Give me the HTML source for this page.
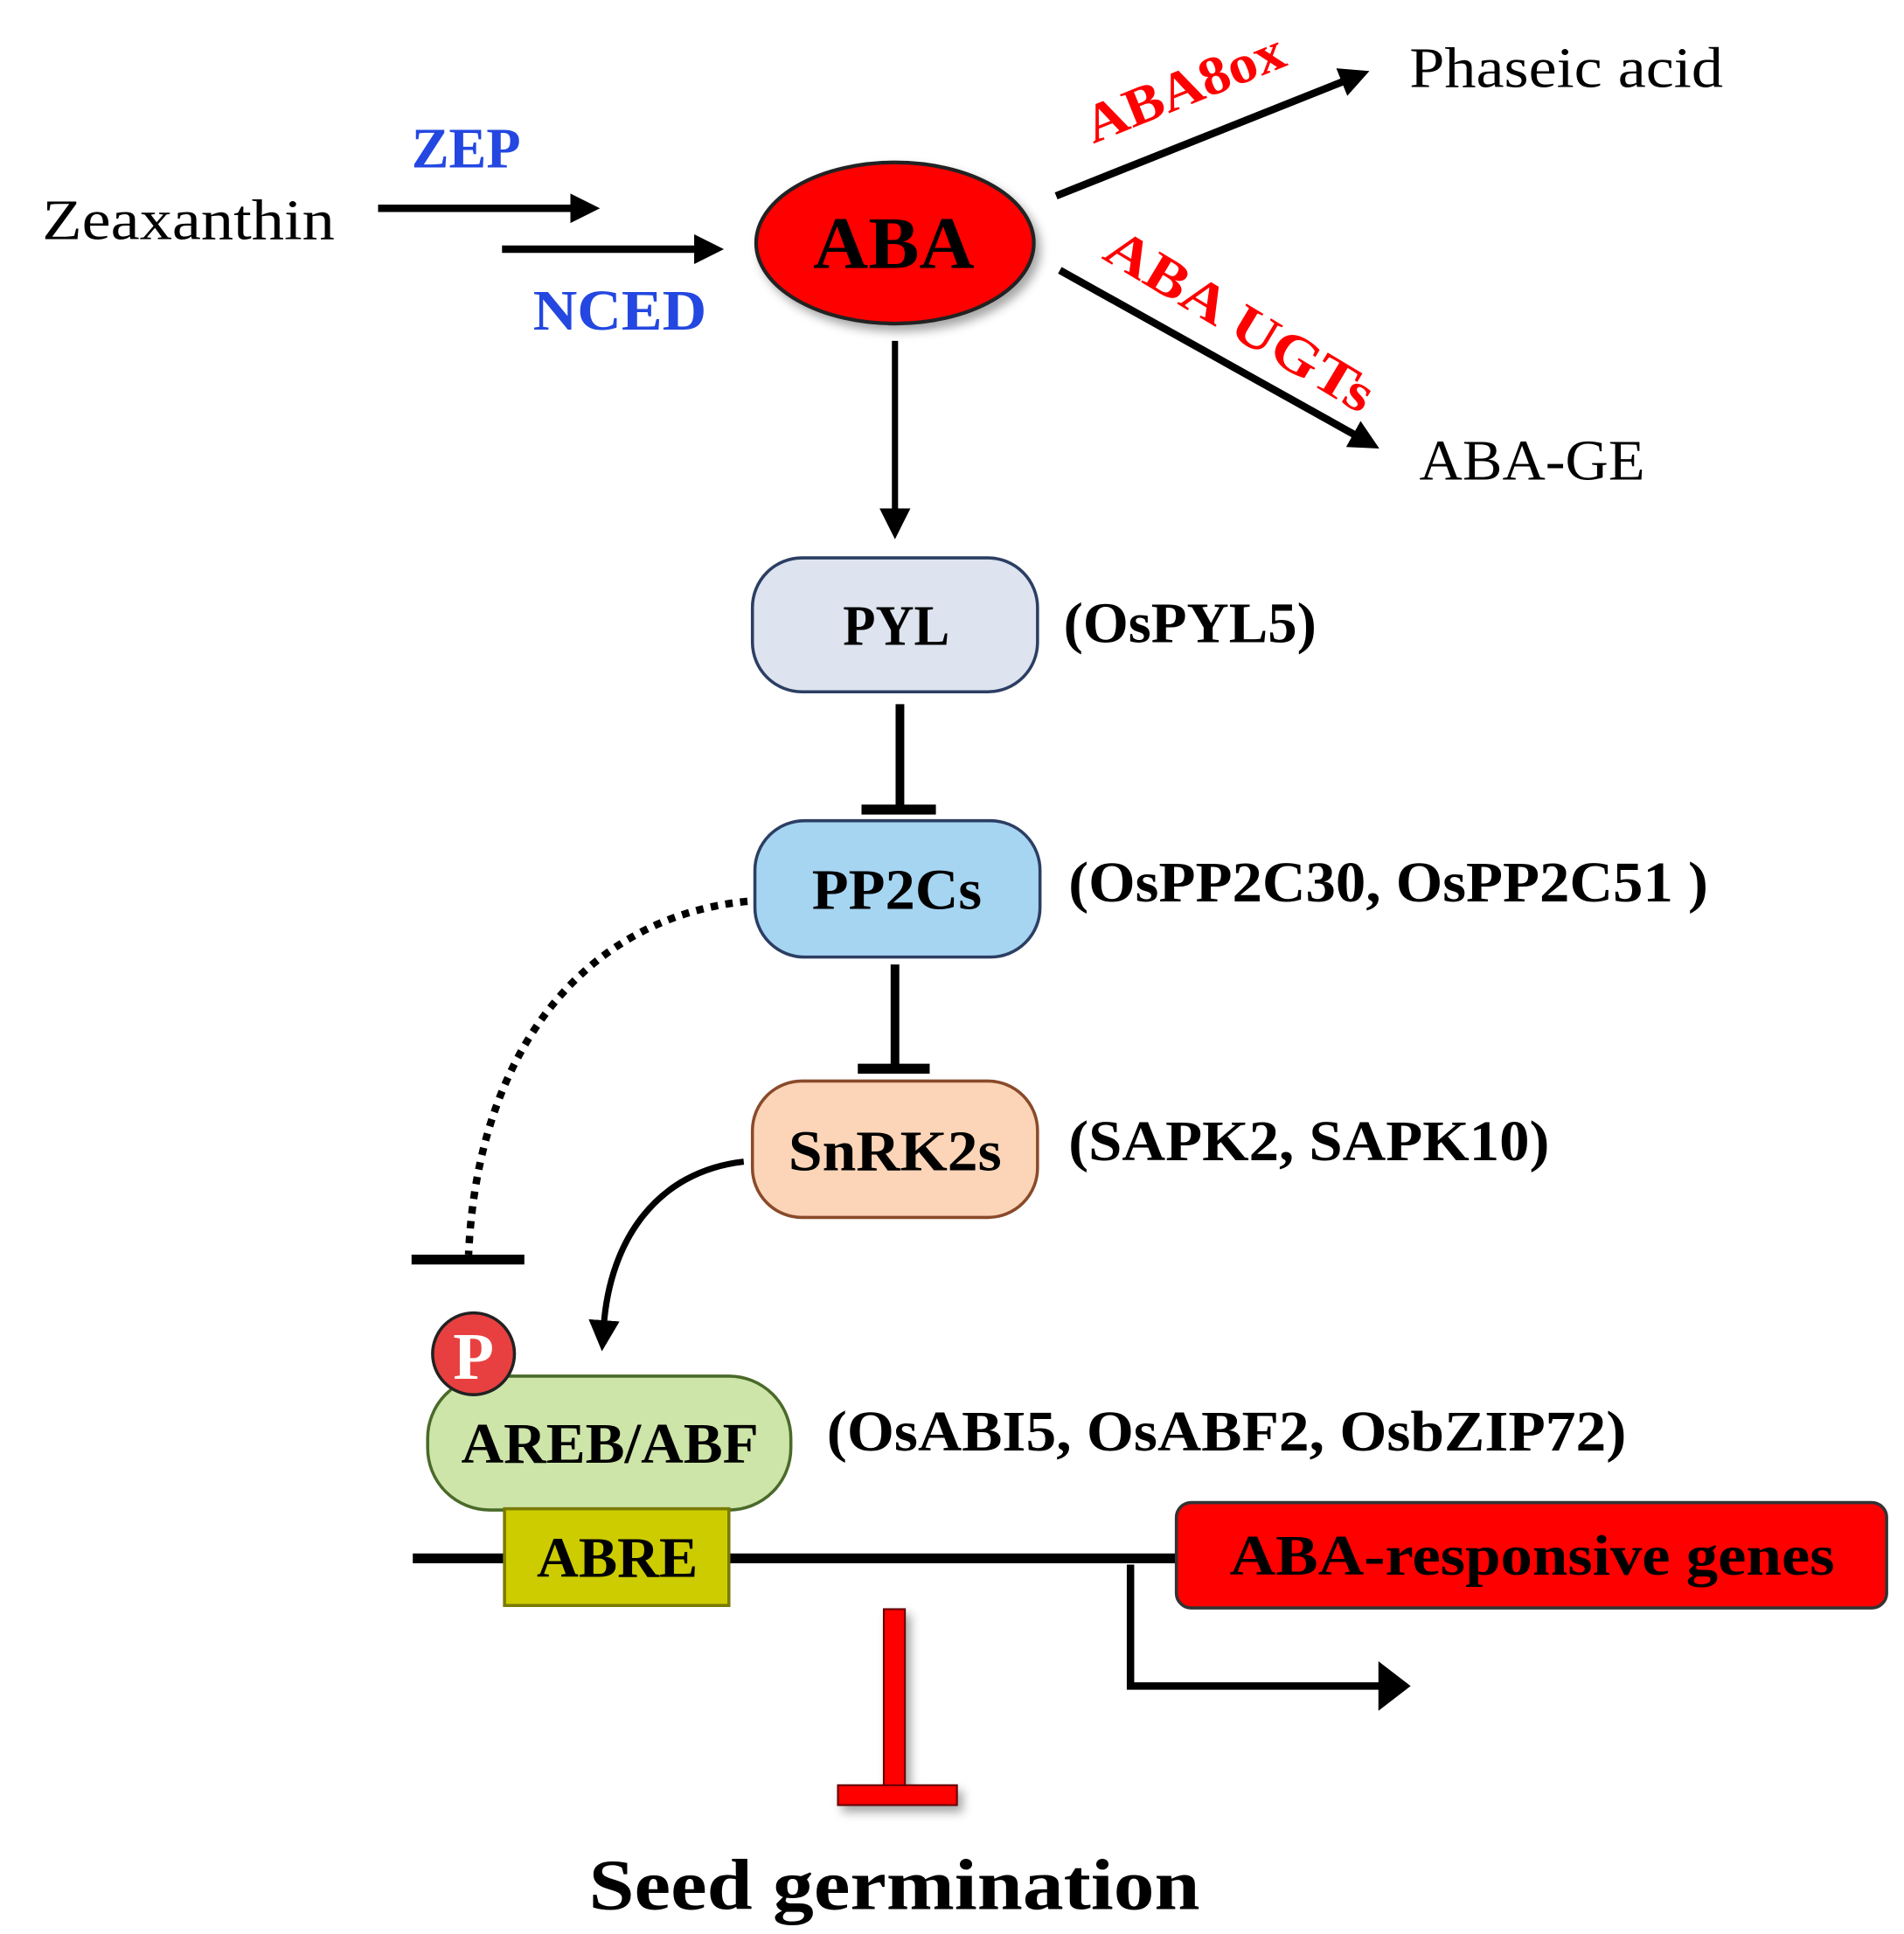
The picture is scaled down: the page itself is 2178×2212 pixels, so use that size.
<!DOCTYPE html>
<html><head><style>html,body{margin:0;padding:0;background:#fff}svg{display:block}</style></head>
<body>
<svg width="2178" height="2212" viewBox="0 0 1536 1560" xmlns="http://www.w3.org/2000/svg" font-family="'Liberation Serif', serif">
<defs>
<marker id="ah" markerWidth="5" markerHeight="4" refX="1" refY="2" orient="auto" markerUnits="strokeWidth"><path d="M0,0 L4,2 L0,4 Z" fill="#000"/></marker>
<marker id="ah3" markerWidth="6" markerHeight="6" refX="1" refY="2.5" orient="auto" markerUnits="strokeWidth"><path d="M0,0 L5,2.5 L0,5 Z" fill="#000"/></marker>
<marker id="ah2" markerWidth="6" markerHeight="6" refX="1" refY="2.5" orient="auto" markerUnits="strokeWidth"><path d="M0,0 L5,2.5 L0,5 Z" fill="#000"/></marker>
<filter id="sh" x="-20%" y="-20%" width="150%" height="150%"><feDropShadow dx="4" dy="5" stdDeviation="4" flood-color="#000" flood-opacity="0.35"/></filter>
</defs>
<text x="34" y="193" font-size="46" textLength="236" lengthAdjust="spacingAndGlyphs">Zeaxanthin</text>
<text x="332" y="135" font-size="46" font-weight="bold" fill="#2347e0" textLength="88" lengthAdjust="spacingAndGlyphs">ZEP</text>
<text x="430" y="266" font-size="46" font-weight="bold" fill="#2347e0" textLength="140" lengthAdjust="spacingAndGlyphs">NCED</text>
<line x1="305" y1="168" x2="466" y2="168" stroke="#000" stroke-width="6" marker-end="url(#ah)"/>
<line x1="405" y1="201" x2="566" y2="201" stroke="#000" stroke-width="6" marker-end="url(#ah)"/>
<ellipse cx="722" cy="196" rx="112" ry="65" fill="#f00" stroke="#222" stroke-width="3" filter="url(#sh)"/>
<text x="656" y="216" font-size="60" font-weight="bold" textLength="130" lengthAdjust="spacingAndGlyphs">ABA</text>
<line x1="852" y1="158" x2="1088" y2="64" stroke="#000" stroke-width="6" marker-end="url(#ah)"/>
<text x="1137" y="70" font-size="46" textLength="253" lengthAdjust="spacingAndGlyphs">Phaseic acid</text>
<text transform="translate(882,116) rotate(-22)" font-size="44" font-weight="bold" fill="#f00" textLength="170" lengthAdjust="spacingAndGlyphs">ABA8ox</text>
<line x1="855" y1="218" x2="1097" y2="353" stroke="#000" stroke-width="6" marker-end="url(#ah)"/>
<text transform="translate(888,208) rotate(31)" font-size="44" font-weight="bold" fill="#f00" textLength="245" lengthAdjust="spacingAndGlyphs">ABA UGTs</text>
<text x="1145" y="387" font-size="46" textLength="182" lengthAdjust="spacingAndGlyphs">ABA-GE</text>
<line x1="722" y1="275" x2="722" y2="415" stroke="#000" stroke-width="5" marker-end="url(#ah3)"/>
<rect x="607" y="450" width="230" height="108" rx="40" fill="#dde3ef" stroke="#2c3e63" stroke-width="2.5"/>
<text x="680" y="520" font-size="46" font-weight="bold" textLength="86" lengthAdjust="spacingAndGlyphs">PYL</text>
<text x="858" y="518" font-size="46" font-weight="bold" textLength="204" lengthAdjust="spacingAndGlyphs">(OsPYL5)</text>
<line x1="726" y1="568" x2="726" y2="652" stroke="#000" stroke-width="7"/>
<line x1="695" y1="653" x2="755" y2="653" stroke="#000" stroke-width="8"/>
<rect x="609" y="662" width="230" height="110" rx="40" fill="#a6d5f2" stroke="#2c3e63" stroke-width="2.5"/>
<text x="655" y="733" font-size="46" font-weight="bold" textLength="137" lengthAdjust="spacingAndGlyphs">PP2Cs</text>
<text x="862" y="727" font-size="46" font-weight="bold" textLength="516" lengthAdjust="spacingAndGlyphs">(OsPP2C30, OsPP2C51 )</text>
<line x1="722" y1="778" x2="722" y2="860" stroke="#000" stroke-width="7"/>
<line x1="692" y1="862" x2="750" y2="862" stroke="#000" stroke-width="8"/>
<rect x="607" y="872" width="230" height="110" rx="40" fill="#fcd5b8" stroke="#8a4a2a" stroke-width="2.5"/>
<text x="636" y="944" font-size="46" font-weight="bold" textLength="172" lengthAdjust="spacingAndGlyphs">SnRK2s</text>
<text x="862" y="936" font-size="46" font-weight="bold" textLength="388" lengthAdjust="spacingAndGlyphs">(SAPK2, SAPK10)</text>
<path d="M603,727 C470,740 385,850 378,1012" fill="none" stroke="#000" stroke-width="6" stroke-dasharray="6,6"/>
<line x1="332" y1="1016" x2="423" y2="1016" stroke="#000" stroke-width="8"/>
<path d="M600,937 C530,945 492,1000 487,1070" fill="none" stroke="#000" stroke-width="5" marker-end="url(#ah2)"/>
<rect x="345" y="1110" width="293" height="108" rx="50" fill="#cde5a8" stroke="#4a6a2a" stroke-width="2.5"/>
<circle cx="382" cy="1092" r="33" fill="#e84040" stroke="#222" stroke-width="2.5"/>
<text x="382" y="1112" font-size="54" font-weight="bold" fill="#fff" text-anchor="middle">P</text>
<text x="372" y="1180" font-size="46" font-weight="bold" textLength="240" lengthAdjust="spacingAndGlyphs">AREB/ABF</text>
<text x="667" y="1170" font-size="46" font-weight="bold" textLength="645" lengthAdjust="spacingAndGlyphs">(OsABI5, OsABF2, OsbZIP72)</text>
<line x1="333" y1="1257" x2="950" y2="1257" stroke="#000" stroke-width="8"/>
<rect x="407" y="1217" width="181" height="78" fill="#cccc00" stroke="#7a7a00" stroke-width="2.5"/>
<text x="433" y="1272" font-size="46" font-weight="bold" textLength="130" lengthAdjust="spacingAndGlyphs">ABRE</text>
<rect x="949" y="1212" width="573" height="85" rx="12" fill="#f00" stroke="#333" stroke-width="2.5"/>
<text x="992" y="1270" font-size="46" font-weight="bold" textLength="488" lengthAdjust="spacingAndGlyphs">ABA-responsive genes</text>
<path d="M912,1262 L912,1360 L1118,1360" fill="none" stroke="#000" stroke-width="6"/>
<path d="M1112,1340 L1138,1360 L1112,1380 Z" fill="#000"/>
<g filter="url(#sh)">
<rect x="713" y="1298" width="17" height="143" fill="#f00" stroke="#600" stroke-width="1.5"/>
<rect x="676" y="1440" width="96" height="16" fill="#f00" stroke="#600" stroke-width="1.5"/>
</g>
<text x="475" y="1540" font-size="58" font-weight="bold" textLength="493" lengthAdjust="spacingAndGlyphs">Seed germination</text>
</svg>
</body></html>
